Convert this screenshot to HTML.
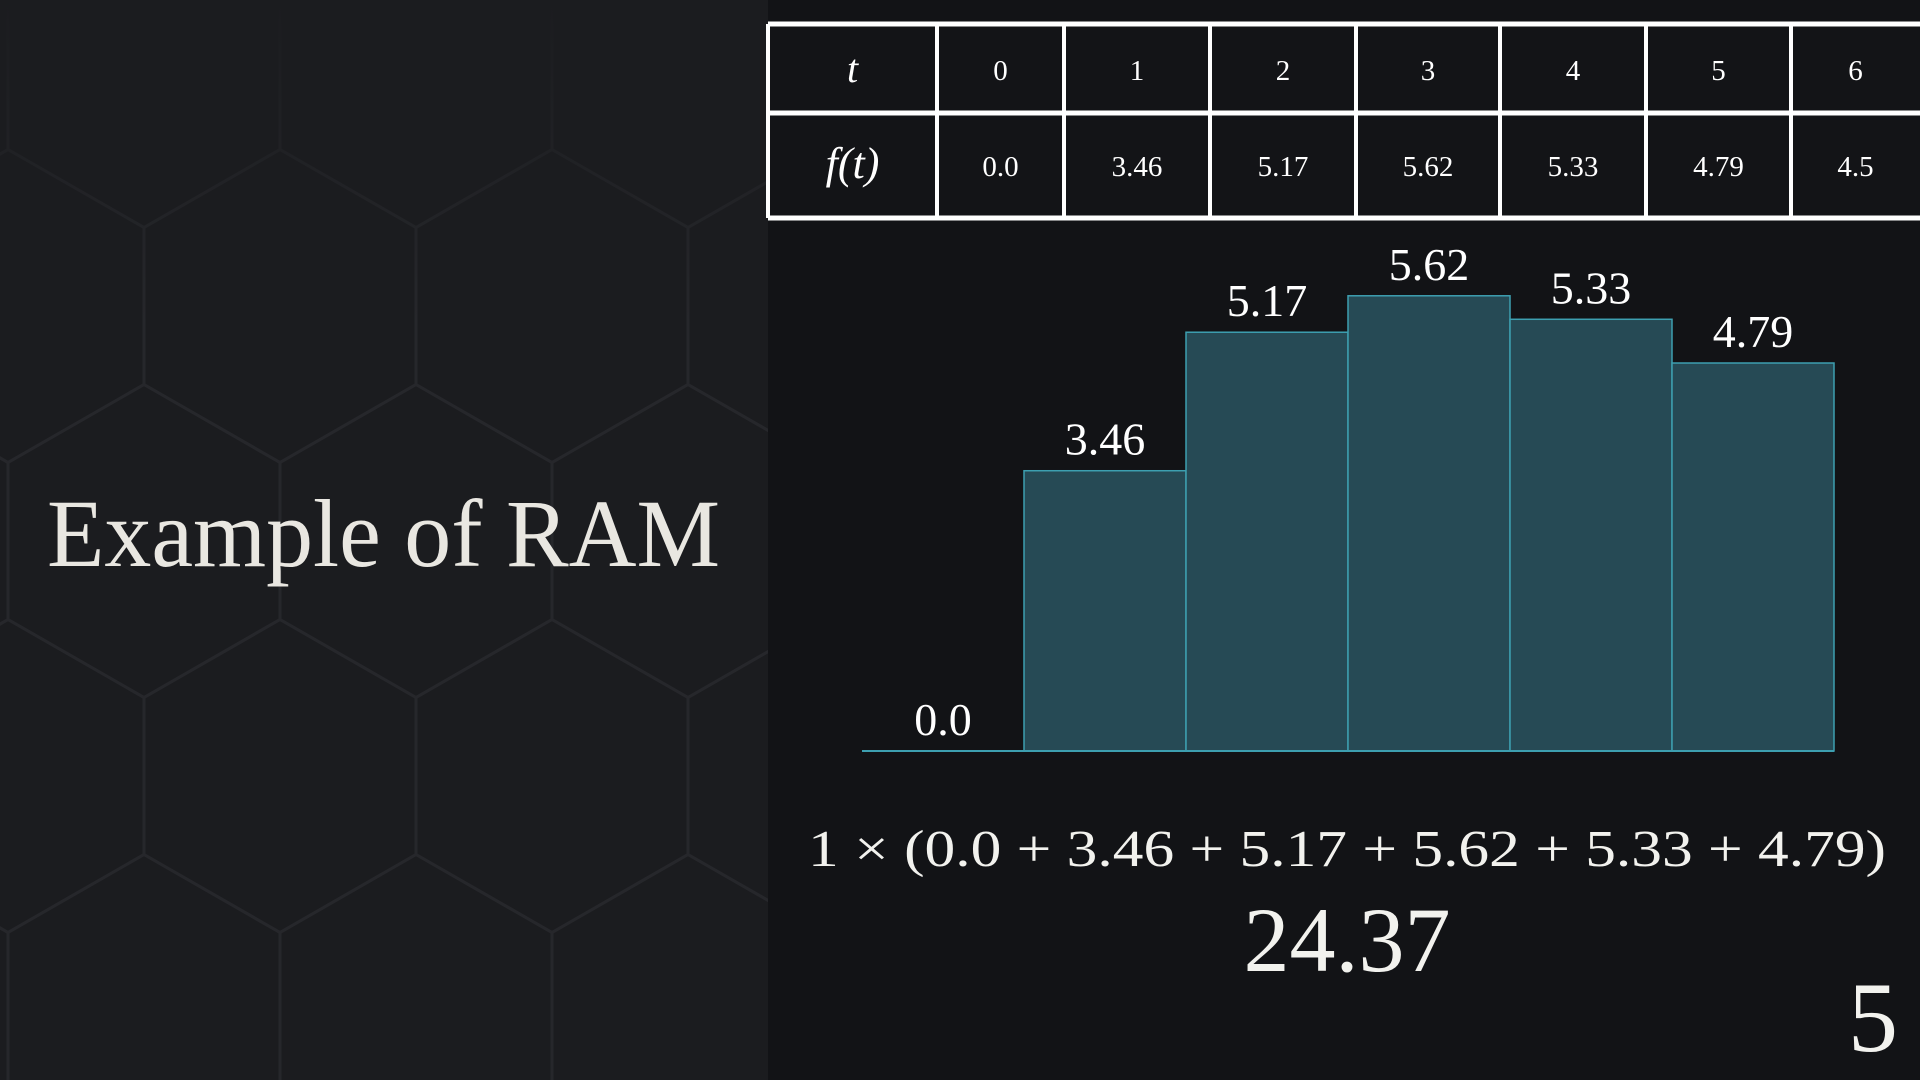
<!DOCTYPE html>
<html><head><meta charset="utf-8">
<style>
html,body{margin:0;padding:0;background:#121316;overflow:hidden;width:1920px;height:1080px;}
#root{position:relative;width:1920px;height:1080px;overflow:hidden;background:#121316;font-family:"Liberation Serif",serif;color:#f2f2ee;}
svg{position:absolute;left:0;top:0;overflow:hidden;display:block;}
</style></head>
<body>
<div id="root">
<svg id="svg" width="1920" height="1080">
  <defs>
    <clipPath id="leftclip"><rect x="0" y="0" width="768" height="1080"/></clipPath>
    <linearGradient id="fade" x1="0" y1="0" x2="0" y2="1">
      <stop offset="0" stop-color="#1b1c1f" stop-opacity="1"/>
      <stop offset="0.3" stop-color="#1b1c1f" stop-opacity="0"/>
    </linearGradient>
  </defs>
  <rect x="0" y="0" width="768" height="1080" fill="#1b1c1f"/>
  <g id="hex" clip-path="url(#leftclip)" stroke="#26272b" stroke-width="3" fill="none"></g>
  <rect x="0" y="0" width="768" height="1080" fill="url(#fade)"/>
  <text x="47" y="566" font-size="96" fill="#e9e7e1" textLength="673" lengthAdjust="spacingAndGlyphs">Example of RAM</text>
  <g id="table"></g>
  <g id="bars"></g>
  <text x="1347" y="866" font-size="52" fill="#f2f2ee" text-anchor="middle" textLength="1078" lengthAdjust="spacingAndGlyphs">1 × (0.0 + 3.46 + 5.17 + 5.62 + 5.33 + 4.79)</text>
  <text id="total" x="1347" y="971" font-size="92" fill="#f2f2ee" text-anchor="middle">24.37</text>
  <text x="1873" y="1051" font-size="100" fill="#f2f2ee" text-anchor="middle">5</text>
</svg>
</div>
<script>
const tValues = ['0','1','2','3','4','5','6'];
const fValues = ['0.0','3.46','5.17','5.62','5.33','4.79','4.5'];
const barValues = [0.0, 3.46, 5.17, 5.62, 5.33, 4.79];
const barLabels = ['0.0','3.46','5.17','5.62','5.33','4.79'];

const NS='http://www.w3.org/2000/svg';
function mk(tag, attrs, parent){const e=document.createElementNS(NS,tag);for(const k in attrs)e.setAttribute(k,attrs[k]);parent.appendChild(e);return e;}

// hexagon background
const hex=document.getElementById('hex');
const W=272, S=157, H=78;
for(let row=-2; row<5; row++){
  for(let col=-1; col<4; col++){
    const odd = ((row%2)+2)%2===1;
    const cx = (odd ? 144 : 280) + col*W;
    const cy = 306 + row*(S+H);
    const pts=[[cx,cy-S/2-H],[cx+W/2,cy-S/2],[cx+W/2,cy+S/2],[cx,cy+S/2+H],[cx-W/2,cy+S/2],[cx-W/2,cy-S/2]];
    const p=mk('polygon',{points:pts.map(p=>p.join(',')).join(' ')},hex);
    
    
  }
}

// table
const tbl=document.getElementById('table');
const colX=[768,937,1064,1210,1356,1500,1646,1791,1925];
const rowY=[24,113,218];
mk('rect',{x:768,y:24,width:1152,height:194,fill:'#131417'},tbl);
for(const x of colX){mk('line',{x1:x,y1:24,x2:x,y2:218,stroke:'#fff','stroke-width':4},tbl);}
for(const y of rowY){mk('line',{x1:768,y1:y,x2:1920,y2:y,stroke:'#fff','stroke-width':5},tbl);}
const hdr=mk('text',{x:(colX[0]+colX[1])/2,y:82,'font-size':40,'font-style':'italic','text-anchor':'middle',fill:'#fff'},tbl);
hdr.textContent='t';


const fh=mk('text',{x:(colX[0]+colX[1])/2,y:178,'font-size':44,'font-style':'italic','text-anchor':'middle',fill:'#fff'},tbl);
fh.textContent='f(t)';


tValues.forEach((v,i)=>{
  const cx=(colX[i+1]+Math.min(colX[i+2],1920))/2;
  const a=mk('text',{x:cx,y:80,'font-size':29,'text-anchor':'middle',fill:'#fff'},tbl);
  a.textContent=v;
  
  
  const b=mk('text',{x:cx,y:176,'font-size':29,'text-anchor':'middle',fill:'#fff'},tbl);
  b.textContent=fValues[i];
  
  
});

// bars
const g=document.getElementById('bars');
const x0=862, bw=162, baseY=751, pxPerUnit=81;
const xs=i=>x0+i*bw;
const ys=v=>baseY-v*pxPerUnit;
barValues.forEach((v,i)=>{
  const r=mk('rect',{x:xs(i),y:ys(v),width:bw,height:baseY-ys(v),fill:'#264a55',stroke:'#3d9fb0','stroke-width':1.5},g);
  
  
  const t=mk('text',{x:xs(i)+bw/2,y:ys(v)-16,'font-size':46,'text-anchor':'middle',fill:'#fff'},g);
  t.textContent=barLabels[i];
  
  
});
const bl=mk('line',{x1:x0,y1:baseY,x2:xs(barValues.length),y2:baseY,stroke:'#3d9fb0','stroke-width':2},g);


</script>
</body></html>
